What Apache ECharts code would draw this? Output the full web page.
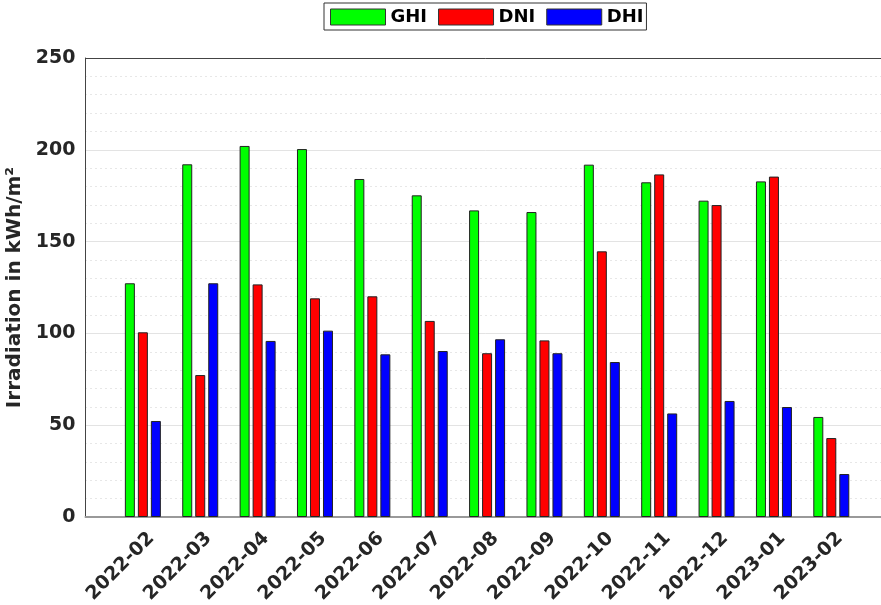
<!DOCTYPE html>
<html>
<head>
<meta charset="utf-8">
<script src="https://cdn.jsdelivr.net/npm/echarts@6/dist/echarts.min.js"></script>
<style>
  html, body { margin: 0; padding: 0; background: #fff; overflow: hidden; }
  #chart { width: 900px; height: 605px; }
</style>
</head>
<body>
<div id="chart"></div>
<script>
// monthly irradiation, kWh/m²
const months = ['2022-02', '2022-03', '2022-04', '2022-05', '2022-06', '2022-07', '2022-08',
    '2022-09', '2022-10', '2022-11', '2022-12', '2023-01', '2023-02'];
const ghi = [127.3, 192.1, 202.1, 200.4, 184.1, 175.2, 167.0, 166.1, 191.9, 182.3, 172.3, 182.8, 54.5];
const dni = [100.6, 77.3, 126.7, 119.1, 120.2, 106.8, 89.2, 96.2, 144.7, 186.6, 169.9, 185.4, 43.0];
const dhi = [52.3, 127.3, 95.9, 101.5, 88.6, 90.4, 96.8, 89.2, 84.4, 56.4, 63.2, 59.9, 23.4];
const yTicks = [0, 50, 100, 150, 200, 250];

const font = 'DejaVu Sans';
const txt = '#262626';
// plot runs past the right edge of the window, like the cropped original
const xMin = -1;
const xMax = -1 + (886 - 85.5) / 57.37;

const chart = echarts.init(document.getElementById('chart'));

function barSeries (name, values, color) {
    return {
        name: name,
        type: 'bar',
        barWidth: 10,
        barGap: '30%',
        data: values.map((v, i) => [i, v]),
        itemStyle: { color: color, borderColor: '#222', borderWidth: 1 }
    }
}

const option = {
    animation: false,
    backgroundColor: '#fff',
    legend: {
        top: 3,
        left: 324,
        itemWidth: 55,
        itemHeight: 16,
        itemGap: 11,
        padding: [5, 3, 4, 6],
        borderColor: '#333',
        borderWidth: 1,
        borderRadius: 0,
        icon: 'rect',
        itemStyle: { borderColor: '#333', borderWidth: 1 },
        textStyle: { fontFamily: font, fontWeight: 'bold', fontSize: 18, color: '#000' },
        data: ['GHI', 'DNI', 'DHI']
    },
    grid: {
        left: 85.5,
        right: 14,
        top: 58,
        bottom: 88,
        outerBoundsMode: 'none',
        containLabel: false
    },
    xAxis: [{
        type: 'value',
        min: xMin,
        max: xMax,
        interval: 1,
        axisLine: { show: true, onZero: false, lineStyle: { color: '#999', width: 2 } },
        axisTick: { show: false },
        splitLine: { show: false },
        axisLabel: {
            rotate: 45,
            margin: 27,
            padding: [0, -12, 0, 0],
            fontFamily: font,
            fontWeight: 'bold',
            fontSize: 19,
            color: txt,
            showMinLabel: false,
            showMaxLabel: false,
            formatter: v => (Number.isInteger(v) && v >= 0 && v < months.length) ? months[v] : ''
        }
    }, {
        // top frame line only
        type: 'value',
        position: 'top',
        min: xMin,
        max: xMax,
        axisLine: { show: true, onZero: false, lineStyle: { color: '#444', width: 1 } },
        axisTick: { show: false },
        axisLabel: { show: false },
        splitLine: { show: false }
    }],
    yAxis: {
        type: 'value',
        min: yTicks[0],
        max: yTicks[yTicks.length - 1],
        interval: 50,
        name: 'Irradiation in kWh/m²',
        nameLocation: 'middle',
        nameGap: 56,
        nameTextStyle: { fontFamily: font, fontWeight: 'bold', fontSize: 20, color: txt },
        axisLine: { show: true, onZero: false, lineStyle: { color: '#444', width: 1 } },
        axisTick: { show: false },
        axisLabel: { fontFamily: font, fontWeight: 'bold', fontSize: 19, color: txt, margin: 10 },
        splitLine: { show: true, lineStyle: { color: '#e3e3e3', width: 1 } },
        minorTick: { show: false, splitNumber: 5 },
        minorSplitLine: { show: true, lineStyle: { color: '#cfcfcf', type: [1, 4], width: 1 } }
    },
    series: [
        barSeries('GHI', ghi, '#00ff00'),
        barSeries('DNI', dni, '#ff0000'),
        barSeries('DHI', dhi, '#0000ff')
    ]
};

chart.setOption(option);
</script>
</body>
</html>
